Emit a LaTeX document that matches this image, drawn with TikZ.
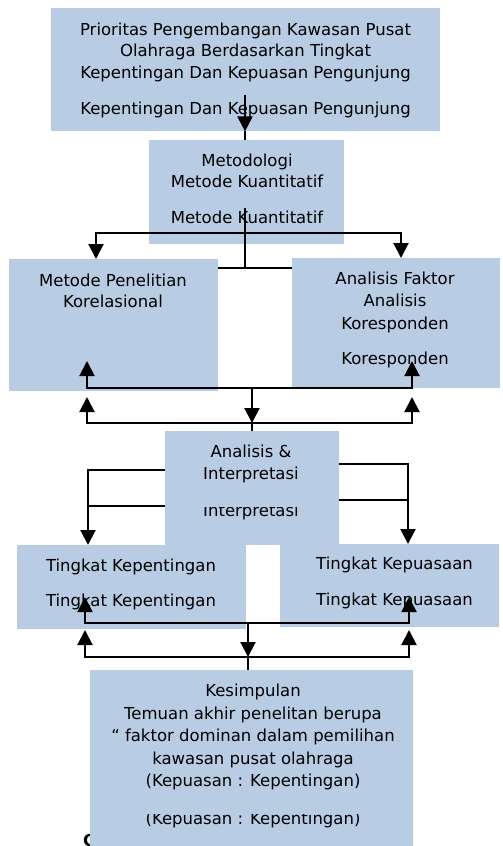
\documentclass[tikz,border=0pt]{standalone}
\usepackage{fontspec}
\setmainfont{DejaVu Sans}
\usepackage{tikz}
\usetikzlibrary{arrows.meta}
\definecolor{boxblue}{RGB}{184,204,228}
\tikzset{
  box/.style={rectangle, fill=boxblue, draw=none, inner sep=0pt,
              anchor=north west},
  txt/.style={font=\fontsize{16.5}{21.5}\selectfont, inner sep=0pt,
              text height=12pt, text depth=3.5pt},
  link/.style={line width=2pt, draw=black},
  arrow/.style={link, -{Triangle[width=15pt,length=15pt]}},
}

\begin{document}
\begin{tikzpicture}[x=1pt, y=-1pt]
  \useasboundingbox (0,0) rectangle (503,846);

  % stray glyph under the last box
  \node[font=\fontsize{16.5}{20}\selectfont\bfseries, inner sep=0pt,
        anchor=base west] (stray) at (83,846) {C};

  % boxes
  \node[box, minimum width=389pt, minimum height=123pt] (prio) at (51,8) {};
  \node[box, minimum width=195pt, minimum height=104pt] (metod) at (149,140) {};
  \node[box, minimum width=209pt, minimum height=132pt] (korel) at (9,259) {};
  \node[box, minimum width=208pt, minimum height=130pt] (faktor) at (292,258) {};
  \node[box, minimum width=174pt, minimum height=114pt] (analisis) at (165,431) {};
  \node[box, minimum width=229pt, minimum height=84pt] (penting) at (17,545) {};
  \node[box, minimum width=219pt, minimum height=83pt] (puas) at (280,544) {};
  \node[box, minimum width=323pt, minimum height=176pt] (kesim) at (90,670) {};

  % texts
  \node[txt] (prio1) at (245.5,31) {Prioritas Pengembangan Kawasan Pusat};
  \node[txt] (prio2) at (245.5,52) {Olahraga Berdasarkan Tingkat};
  \node[txt] (prio3) at (245.5,74) {Kepentingan Dan Kepuasan Pengunjung};
  \node[txt] (prio4) at (245.5,110) {Kepentingan Dan Kepuasan Pengunjung};

  \node[txt] (metod1) at (247,162) {Metodologi};
  \node[txt] (metod2) at (247,183) {Metode Kuantitatif};
  \node[txt] (metod3) at (247,219) {Metode Kuantitatif};

  \node[txt] (korel1) at (113,282) {Metode Penelitian};
  \node[txt] (korel2) at (113,303) {Korelasional};

  \node[txt] (faktor1) at (395,280) {Analisis Faktor};
  \node[txt] (faktor2) at (395,302) {Analisis};
  \node[txt] (faktor3) at (395,325) {Koresponden};
  \node[txt] (faktor4) at (395,360) {Koresponden};

  \node[txt] (analisis1) at (251,453) {Analisis \&};
  \node[txt] (analisis2) at (251,475) {Interpretasi};
  \begin{scope}
    \clip (165,507) rectangle (339,545);
    \node[txt] (analisis3) at (251,512) {Interpretasi};
  \end{scope}

  \node[txt] (penting1) at (131,567) {Tingkat Kepentingan};
  \node[txt] (penting2) at (131,602) {Tingkat Kepentingan};

  \node[txt] (puas1) at (394.5,565) {Tingkat Kepuasaan};
  \node[txt] (puas2) at (394.5,601) {Tingkat Kepuasaan};

  \node[txt] (kesim1) at (253,692) {Kesimpulan};
  \node[txt] (kesim2) at (253,715) {Temuan akhir penelitan berupa};
  \node[txt] (kesim3) at (253,737) {“ faktor dominan dalam pemilihan};
  \node[txt] (kesim4) at (253,760) {kawasan pusat olahraga};
  \node[txt] (kesim5) at (253,782) {(Kepuasan : Kepentingan)};
  \begin{scope}
    \clip (90,814) rectangle (413,846);
    \node[txt] (kesim6) at (253,820) {(Kepuasan : Kepentingan)};
  \end{scope}

  % junctions
  \coordinate (j0) at (245,95);
  \coordinate (j1) at (245,208);
  \coordinate (j2) at (245,268);
  \coordinate (j3) at (245,233);
  \coordinate (j4) at (252,388);
  \coordinate (j5) at (252,423);
  \coordinate (k1) at (87,361);
  \coordinate (f1) at (412,361);
  \coordinate (k2) at (87,397);
  \coordinate (f2) at (412,397);
  \coordinate (a1) at (88,470);
  \coordinate (a2) at (88,506);
  \coordinate (b1) at (408,464);
  \coordinate (b2) at (408,500);
  \coordinate (j6) at (248,623);
  \coordinate (j7) at (248,657);
  \coordinate (p1) at (85,597);
  \coordinate (q1) at (409,597);
  \coordinate (p2) at (85,630);
  \coordinate (q2) at (409,630);

  % connectors
  \draw[arrow] (j0) -- (j0 |- prio.south);
  \draw[link] (j0 |- prio.south) -- (j0 |- metod.north);

  \draw[link] (j1) -- (j2);
  \draw[link] (korel.east |- j2) -- (faktor.west |- j2);
  \draw[arrow] (j3) -| ([xshift=87pt]korel.north west);
  \draw[arrow] (j3) -| ([xshift=109pt]faktor.north west);

  \draw[arrow] (j4) -| (k1);
  \draw[arrow] (j4) -| (f1);
  \draw[arrow] (j4) -- (j5);
  \draw[arrow] (j5) -| (k2);
  \draw[arrow] (j5) -| (f2);
  \draw[link] (j5) -- (j5 |- analisis.north);

  \draw[arrow] (analisis.west |- a1) -| (a1 |- penting.north);
  \draw[link] (analisis.west |- a2) -- (a2);
  \draw[arrow] (analisis.east |- b1) -| (b1 |- puas.north);
  \draw[link] (analisis.east |- b2) -- (b2);

  \draw[arrow] (j6) -| (p1);
  \draw[arrow] (j6) -| (q1);
  \draw[arrow] (j6) -- (j7);
  \draw[arrow] (j7) -| (p2);
  \draw[arrow] (j7) -| (q2);
  \draw[link] (j7) -- (j7 |- kesim.north);

\end{tikzpicture}
\end{document}
